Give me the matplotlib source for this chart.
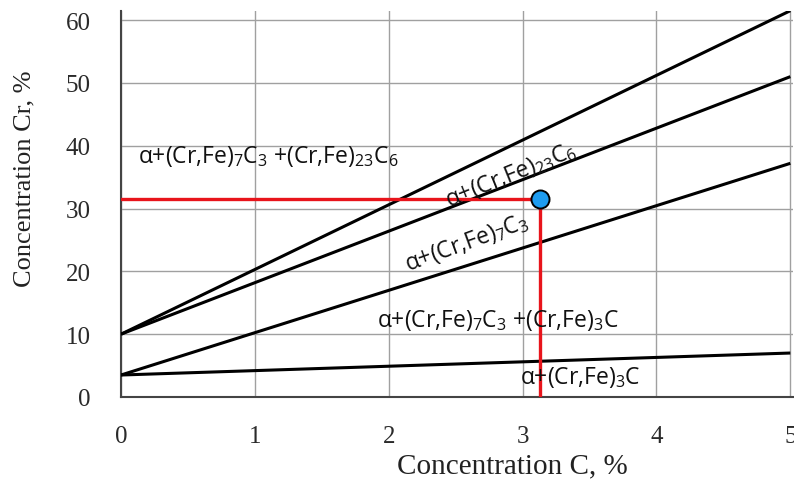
import matplotlib
matplotlib.use("Agg")
import matplotlib.pyplot as plt
import numpy as np

# --- datos
c_lim = np.array([0.0, 5.0])
linea1 = np.array([10.0, 61.5])
linea2 = np.array([10.0, 51.0])
linea3 = np.array([3.5, 37.2])
linea4 = np.array([3.5, 7.0])

punto_c = 3.13
punto_cr = 31.5

xticks = [0, 1, 2, 3, 4, 5]
yticks = [0, 10, 20, 30, 40, 50, 60]

etiquetas = [
    ("\u03b1+(Cr,Fe)$_7$C$_3$ +(Cr,Fe)$_{23}$C$_6$", 0.13, 38.4, 0, "left"),
    ("\u03b1+(Cr,Fe)$_{23}$C$_6$", 2.91, 35.4, 22, "center"),
    ("\u03b1+(Cr,Fe)$_7$C$_3$", 2.58, 24.6, 20, "center"),
    ("\u03b1+(Cr,Fe)$_7$C$_3$ +(Cr,Fe)$_3$C", 1.91, 12.4, 0, "left"),
    ("\u03b1+(Cr,Fe)$_3$C", 2.98, 3.2, 0, "left"),
]

plt.rcParams['mathtext.fontset'] = 'custom'
plt.rcParams['mathtext.rm'] = 'Open Sans'
plt.rcParams['mathtext.it'] = 'Open Sans:italic'
plt.rcParams['mathtext.bf'] = 'Open Sans:bold'

fig = plt.figure(figsize=(7.94, 4.81), dpi=100)
ax = fig.add_axes([121/794, 83/481, 672/794, 386.3/481])

for l in [linea1, linea2, linea3, linea4]:
    ax.plot(c_lim, l, color='black', lw=2.2, solid_capstyle='butt', zorder=3)

ax.plot([0, punto_c], [punto_cr, punto_cr], color='#e8141b', lw=2.4, zorder=4)
ax.plot([punto_c, punto_c], [0, punto_cr], color='#e8141b', lw=2.4, zorder=4)
ax.plot([punto_c], [punto_cr], 'o', ms=13, color='#1e9cf0', mec='black', mew=1.4, zorder=5)

for texto, x, y, rot, ha in etiquetas:
    ax.text(x, y, texto, rotation=rot, ha=ha, va='center', fontsize=16.5,
            family='Open Sans', color='#111111', rotation_mode='anchor', zorder=6)

ax.set_xlim(0, 5.02)
ax.set_ylim(0, 61.5)
ax.set_xticks(xticks)
ax.set_yticks(yticks)
ax.grid(True, color='#a0a0a0', lw=1.0)
ax.set_axisbelow(True)
for s in ['top', 'right']:
    ax.spines[s].set_visible(False)
for s in ['left', 'bottom']:
    ax.spines[s].set_color('#444444')
    ax.spines[s].set_linewidth(1.5)

ax.tick_params(length=0, pad=20, labelsize=18, colors='#2a2a2a')
ax.tick_params(axis='y', pad=22)
for lab in ax.get_xticklabels() + ax.get_yticklabels():
    lab.set_family('Liberation Serif')

ax.set_xlabel('Concentration C, %', family='Liberation Serif', fontsize=21, color='#222222')
ax.set_ylabel('Concentration Cr, %', family='Liberation Serif', fontsize=19, color='#222222')
ax.xaxis.set_label_coords(0.582, -0.143)
ax.yaxis.set_label_coords(-0.128, 0.567)

plt.savefig("out.png", dpi=100)
